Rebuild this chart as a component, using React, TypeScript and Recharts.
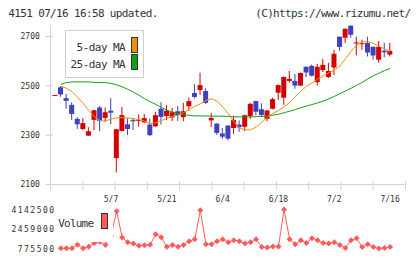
import React from 'react';
import { ComposedChart, LineChart, Line, Bar, XAxis, YAxis, ReferenceLine } from 'recharts';

// Trading days (index 0 .. 60)
const dates = [
  '4/18', '4/21', '4/22', '4/23', '4/24', '4/25', '4/28', '4/30', '5/1', '5/2',
  '5/7', '5/8', '5/9', '5/12', '5/13', '5/14', '5/15', '5/16', '5/19', '5/20',
  '5/21', '5/22', '5/23', '5/26', '5/27', '5/28', '5/29', '5/30', '6/2', '6/3',
  '6/4', '6/5', '6/6', '6/9', '6/10', '6/11', '6/12', '6/13', '6/16', '6/17',
  '6/18', '6/19', '6/20', '6/23', '6/24', '6/25', '6/26', '6/27', '6/30', '7/1',
  '7/2', '7/3', '7/4', '7/7', '7/8', '7/9', '7/10', '7/11', '7/14', '7/15',
  '7/16',
];

const open = [
  2461, 2494, 2450, 2423, 2366, 2325, 2298, 2362, 2412, 2370,
  2399, 2207, 2317, 2344, 2361, 2357, 2352, 2343, 2336, 2407,
  2378, 2372, 2397, 2373, 2417, 2471, 2483, 2479, 2360, 2347,
  2307, 2339, 2329, 2343, 2334, 2378, 2438, 2405, 2366, 2407,
  2472, 2452, 2520, 2520, 2501, 2577, 2581, 2515, 2564, 2536,
  2574, 2699, 2695, 2744, 2672, 2669, 2674, 2658, 2606, 2642,
  2627,
];
const high = [
  2462, 2499, 2467, 2433, 2373, 2369, 2332, 2403, 2418, 2412,
  2450, 2326, 2414, 2368, 2370, 2385, 2386, 2368, 2395, 2434,
  2422, 2410, 2418, 2431, 2452, 2507, 2553, 2490, 2390, 2348,
  2329, 2340, 2377, 2360, 2383, 2431, 2440, 2429, 2402, 2452,
  2505, 2538, 2560, 2548, 2554, 2579, 2586, 2589, 2609, 2593,
  2646, 2700, 2733, 2745, 2699, 2687, 2699, 2660, 2682, 2674,
  2674,
];
const low = [
  2460, 2456, 2407, 2362, 2325, 2320, 2298, 2320, 2316, 2354,
  2344, 2149, 2315, 2301, 2321, 2334, 2348, 2297, 2333, 2343,
  2361, 2358, 2358, 2357, 2399, 2449, 2463, 2427, 2333, 2301,
  2285, 2279, 2305, 2313, 2316, 2366, 2380, 2376, 2357, 2405,
  2442, 2423, 2513, 2488, 2499, 2535, 2538, 2501, 2556, 2532,
  2544, 2642, 2674, 2695, 2623, 2646, 2619, 2606, 2594, 2615,
  2619,
];
const close = [
  2461, 2465, 2439, 2386, 2344, 2349, 2316, 2401, 2358, 2393,
  2391, 2324, 2381, 2325, 2356, 2360, 2369, 2300, 2381, 2374,
  2399, 2393, 2381, 2397, 2438, 2455, 2503, 2431, 2370, 2309,
  2294, 2286, 2361, 2332, 2381, 2427, 2395, 2382, 2400, 2446,
  2503, 2536, 2528, 2501, 2552, 2554, 2541, 2577, 2585, 2560,
  2630, 2658, 2731, 2707, 2674, 2671, 2635, 2623, 2658, 2636,
  2642,
];

const ma5 = [
  null, 2499, 2490, 2477, 2454, 2429, 2401, 2375, 2359, 2357,
  2365, 2370, 2372, 2370, 2367, 2363, 2357, 2346, 2351, 2359,
  2368, 2376, 2381, 2392, 2404, 2417, 2427, 2441, 2447, 2438,
  2414, 2387, 2355, 2330, 2321, 2322, 2333, 2352, 2372, 2388,
  2400, 2415, 2432, 2455, 2478, 2498, 2512, 2527, 2540, 2553,
  2563, 2580, 2610, 2640, 2665, 2678, 2680, 2672, 2660, 2650,
  2638,
];
const ma25 = [
  null, 2506, 2513, 2516, 2516, 2516, 2516, 2514, 2513, 2513,
  2510, 2504, 2496, 2486, 2475, 2462, 2448, 2436, 2425, 2413,
  2401, 2394, 2388, 2384, 2380, 2378, 2378, 2378, 2377, 2377,
  2377, 2376, 2375, 2374, 2374, 2374, 2375, 2376, 2378, 2381,
  2385, 2391, 2397, 2404, 2411, 2418, 2424, 2431, 2438, 2447,
  2457, 2468, 2479, 2490, 2502, 2514, 2528, 2541, 2551, 2562,
  2570,
];

const volume = [
  null, 800000, 790000, 795000, 1090000, 790000, 920000, 1240000, 1350000, 1070000,
  1860000, 4000000, 1720000, 1320000, 1200000, 1010000, 1060000, 1090000, 2010000, 1750000,
  920000, 1070000, 920000, 1070000, 1410000, 1580000, 4080000, 1150000, 1140000, 1410000,
  1580000, 1320000, 1490000, 1410000, 1200000, 1320000, 1580000, 895000, 860000, 945000,
  945000, 4142500, 1580000, 1150000, 1490000, 1240000, 1660000, 1490000, 1240000, 1200000,
  1320000, 1070000, 810000, 1490000, 1660000, 895000, 1150000, 895000, 775500, 810000,
  895000,
];

const dateLabels = ['5/7', '5/21', '6/4', '6/18', '7/2', '7/16'];
const priceTicks = [2100, 2300, 2500, 2700];
const volumeTicks = [775500, 2459000, 4142500];

const rows = dates.map((d, i) => ({
  idx: i,
  date: d,
  open: open[i],
  high: high[i],
  low: low[i],
  close: close[i],
  range: [low[i], high[i]],
  ma5: ma5[i],
  ma25: ma25[i],
  volume: volume[i],
}));

// Layout
const W = 420;
const H = 259;
const PLOT_L = 50.5;
const PLOT_R = 405.5;
const PRICE_TOP = 25;
const PRICE_BOTTOM = 190;
const X_AXIS_H = 20;
const P_MIN = 2077.7;
const P_MAX = 2746.6;
const VOL_TOP = 209.5;
const VOL_BOTTOM = 248.5;
const X_MIN = -0.846;
const X_MAX = 62.76;
const GRID_STEPS = 11;
// Evenly spaced tick marks along the time axis (fractional values),
// plus the labelled dates (whole trading-day indices).
const gridTicks = Array.from({ length: GRID_STEPS + 1 }, (_, k) =>
  k === GRID_STEPS ? X_MAX : X_MIN + (k * (X_MAX - X_MIN)) / GRID_STEPS
);
const dateTickIdx = dateLabels.map((l) => dates.indexOf(l));
const xTicks = [...gridTicks, ...dateTickIdx].sort((a, b) => a - b);

// Colours
const UP = '#d50000';
const DOWN = '#4040c0';
const ORANGE = '#f0900a';
const GREEN = '#14a014';
const VOL = '#ff5b5b';
const AXIS = '#d2d2d2';
const TEXT = '#333333';
const MONO = "'DejaVu Sans Mono', monospace";
const BODY_W = 5;

const Candle = (props: any) => {
  const { x, y, width, height, payload } = props;
  if (!payload || x == null || y == null) return <g />;
  const { open: o, close: c, high: h, low: l } = payload;
  const top = Math.min(y, y + height);
  const span = Math.abs(height);
  const py = (v: number) => (h === l ? top : top + ((h - v) / (h - l)) * span);
  const cx = x + width / 2;
  const color = c >= o ? UP : DOWN;
  const bTop = py(Math.max(o, c));
  const bBot = py(Math.min(o, c));
  const bH = Math.max(1, bBot - bTop);
  return (
    <g>
      <line x1={cx} x2={cx} y1={py(h)} y2={py(l)} stroke={color} strokeWidth={1} />
      <rect x={cx - BODY_W / 2} y={bH === 1 ? bTop - 0.5 : bTop} width={BODY_W} height={bH} fill={color} />
    </g>
  );
};

const TimeTick = (props: any) => {
  const { x, y, payload } = props;
  const v = payload.value;
  if (Number.isInteger(v) && dateTickIdx.includes(v)) {
    return (
      <text x={x} y={y + 11.5} textAnchor="middle" fontFamily={MONO} fontSize={8} fill={TEXT}>
        {dates[v]}
      </text>
    );
  }
  return <line x1={x} x2={x} y1={y - 8.5} y2={y} stroke={AXIS} strokeWidth={1} />;
};

const PriceTick = (props: any) => {
  const { x, y, payload } = props;
  return (
    <g>
      <line x1={x - 5} x2={x + 2.5} y1={y} y2={y} stroke={AXIS} strokeWidth={1} />
      <text x={39.8} y={y + 3} textAnchor="end" fontFamily={MONO} fontSize={8} fill={TEXT}>
        {payload.value}
      </text>
    </g>
  );
};

const VolumeTick = (props: any) => {
  const { y, payload } = props;
  return (
    <text x={55.6} y={y + 3} textAnchor="end" fontFamily={MONO} fontSize={8} letterSpacing={1.5} fill={TEXT}>
      {payload.value}
    </text>
  );
};

const Diamond = (props: any) => {
  const { cx, cy, index } = props;
  if (cx == null || cy == null || props.value == null) return <g key={`d-${index}`} />;
  const r = 3;
  return (
    <polygon
      key={`d-${index}`}
      points={`${cx},${cy - r} ${cx + r},${cy} ${cx},${cy + r} ${cx - r},${cy}`}
      fill={VOL}
    />
  );
};

export default function App() {
  return (
    <div style={{ position: 'absolute', left: 0, top: 0, width: W, height: H, background: '#fff', overflow: 'hidden' }}>
      <div style={{ position: 'absolute', left: 0, top: 0 }}>
        <ComposedChart
          width={W}
          height={H}
          data={rows}
          margin={{ top: PRICE_TOP, right: W - PLOT_R, bottom: H - PRICE_BOTTOM - X_AXIS_H, left: 0 }}
        >
          <XAxis
            xAxisId="t"
            dataKey="idx"
            type="number"
            domain={[X_MIN, X_MAX]}
            ticks={xTicks}
            interval={0}
            height={X_AXIS_H}
            axisLine={false}
            tickLine={false}
            tickSize={0}
            tickMargin={0}
            tick={TimeTick}
          />
          <YAxis
            yAxisId="p"
            type="number"
            domain={[P_MIN, P_MAX]}
            ticks={priceTicks}
            interval={0}
            width={PLOT_L}
            axisLine={{ stroke: AXIS }}
            tickLine={false}
            tickSize={0}
            tickMargin={0}
            tick={PriceTick}
          />
          <ReferenceLine xAxisId="t" yAxisId="p" y={2100} stroke={AXIS} strokeWidth={1} />
          <Bar xAxisId="t" yAxisId="p" dataKey="range" barSize={BODY_W} shape={Candle} isAnimationActive={false} />
          <Line xAxisId="t" yAxisId="p" dataKey="ma25" stroke={GREEN} strokeWidth={1} dot={false} isAnimationActive={false} />
          <Line xAxisId="t" yAxisId="p" dataKey="ma5" stroke={ORANGE} strokeWidth={1} dot={false} isAnimationActive={false} />
        </ComposedChart>
      </div>
      <div style={{ position: 'absolute', left: 0, top: 0 }}>
        <LineChart
          width={W}
          height={H}
          data={rows}
          margin={{ top: VOL_TOP, right: W - PLOT_R, bottom: H - VOL_BOTTOM, left: 0 }}
        >
          <XAxis dataKey="idx" type="number" domain={[X_MIN, X_MAX]} hide />
          <YAxis
            type="number"
            domain={[775500, 4142500]}
            ticks={volumeTicks}
            interval={0}
            width={PLOT_L}
            axisLine={false}
            tickLine={false}
            tickSize={0}
            tickMargin={0}
            tick={VolumeTick}
          />
          <Line dataKey="volume" stroke={VOL} strokeWidth={1} dot={Diamond} isAnimationActive={false} />
        </LineChart>
      </div>
      <svg width={W} height={H} style={{ position: 'absolute', left: 0, top: 0 }}>
        <g fontFamily={MONO} fontSize={11} letterSpacing={-0.65} fill={TEXT}>
          <text x={8.3} y={16.5}>4151 07/16 16:58 updated.</text>
          <text x={410.5} y={16.5} textAnchor="end">(C)https://www.rizumu.net/</text>
        </g>
        <rect x={65.5} y={30.5} width={78} height={47} fill="#fff" stroke="#cfcfcf" />
        <g fontFamily={MONO} fontSize={11} letterSpacing={-0.55} fill={TEXT}>
          <text x={125.2} y={50.7} textAnchor="end">5-day MA</text>
          <text x={125.2} y={67.5} textAnchor="end">25-day MA</text>
        </g>
        <rect x={131.5} y={37.5} width={6} height={15} fill={ORANGE} stroke="#333" />
        <rect x={131.5} y={54.5} width={6} height={15} fill={GREEN} stroke="#333" />
        <rect x={55} y={205} width={58} height={37} fill="#fff" />
        <text x={58.3} y={226.5} fontFamily={MONO} fontSize={11} letterSpacing={-0.8} fill={TEXT}>
          Volume
        </text>
        <rect x={101.5} y={213.5} width={6} height={15} fill={VOL} stroke="#333" />
      </svg>
    </div>
  );
}
